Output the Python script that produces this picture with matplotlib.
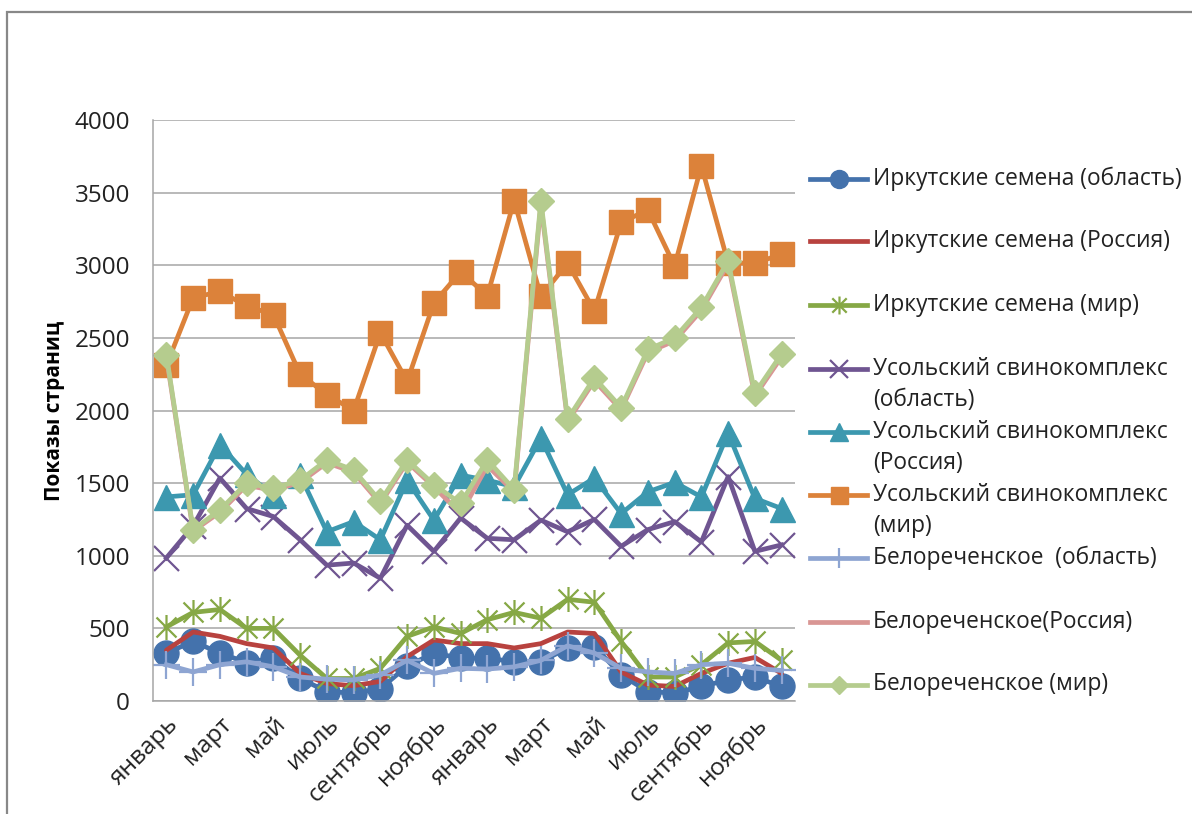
import matplotlib
matplotlib.use("Agg")
import matplotlib.pyplot as plt
from matplotlib.lines import Line2D
from matplotlib.patches import Rectangle
from matplotlib.path import Path

plt.rcParams["font.family"] = ["Open Sans", "DejaVu Sans"]

W, H = 1192, 814

months = ["январь", "февраль", "март", "апрель", "май", "июнь",
          "июль", "август", "сентябрь", "октябрь", "ноябрь", "декабрь"] * 2

irk_obl = [330, 410, 330, 265, 295, 155, 65, 55, 85, 240, 330, 295,
           295, 270, 270, 365, 375, 180, 65, 55, 100, 145, 165, 100]
irk_ros = [350, 475, 445, 395, 365, 190, 120, 105, 135, 305, 420, 395,
           395, 365, 395, 475, 465, 200, 110, 100, 190, 260, 300, 190]
irk_mir = [510, 610, 630, 500, 500, 315, 155, 155, 225, 445, 510, 465,
           560, 610, 570, 700, 680, 410, 165, 165, 250, 400, 410, 280]
us_obl = [985, 1205, 1535, 1325, 1270, 1110, 935, 950, 845, 1210, 1030, 1260,
          1120, 1110, 1245, 1165, 1250, 1065, 1180, 1235, 1095, 1545, 1030, 1075]
us_ros = [1405, 1420, 1765, 1560, 1420, 1555, 1165, 1235, 1110, 1520, 1245, 1555,
          1520, 1475, 1810, 1420, 1535, 1290, 1440, 1505, 1405, 1845, 1395, 1325]
us_mir = [2310, 2775, 2820, 2720, 2660, 2250, 2110, 2000, 2535, 2200, 2740, 2955,
          2790, 3445, 2785, 3015, 2685, 3295, 3380, 2995, 3685, 3015, 3015, 3075]
bel_obl = [250, 200, 250, 270, 235, 165, 150, 145, 180, 280, 190, 225,
           220, 235, 280, 380, 330, 225, 200, 190, 250, 260, 225, 210]
bel_ros = [2370, 1170, 1300, 1485, 1450, 1505, 1640, 1575, 1360, 1645, 1475, 1290,
           1620, 1440, 3420, 1925, 2205, 2005, 2400, 2480, 2690, 3010, 2100, 2370]
bel_mir = [2385, 1180, 1315, 1500, 1465, 1520, 1660, 1590, 1375, 1660, 1490, 1360,
           1660, 1455, 3445, 1940, 2225, 2020, 2420, 2500, 2710, 3030, 2120, 2390]

labels = [
    ["Иркутские семена (область)"],
    ["Иркутские семена (Россия)"],
    ["Иркутские семена (мир)"],
    ["Усольский свинокомплекс", "(область)"],
    ["Усольский свинокомплекс", "(Россия)"],
    ["Усольский свинокомплекс", "(мир)"],
    ["Белореченское  (область)"],
    ["Белореченское(Россия)"],
    ["Белореченское (мир)"],
]

star = Path([(0, -1), (0, 1), (-0.8, -0.8), (0.8, 0.8), (-0.8, 0.8), (0.8, -0.8)],
            [Path.MOVETO, Path.LINETO, Path.MOVETO, Path.LINETO, Path.MOVETO, Path.LINETO])

# color, marker, markersize, marker edge width, face
styles = [
    ("#4472AC", "o", 18, 1.0, "#4472AC"),
    ("#B8423F", None, 0, 0, None),
    ("#86A845", star, 18, 1.6, "none"),
    ("#6F5591", "x", 18, 1.6, "none"),
    ("#3C98AF", "^", 18, 1.0, "#3C98AF"),
    ("#DC823A", "s", 17, 1.0, "#DC823A"),
    ("#8EA5D2", "+", 20, 1.6, "none"),
    ("#D99694", None, 0, 0, None),
    ("#B5CC8E", "D", 13, 1.0, "#B5CC8E"),
]
series = [irk_obl, irk_ros, irk_mir, us_obl, us_ros, us_mir, bel_obl, bel_ros, bel_mir]

fig = plt.figure(figsize=(W / 100, H / 100), dpi=100)
ax = fig.add_axes([153 / W, 1 - 701 / H, (795 - 153) / W, (701 - 120) / H])

x = list(range(len(months)))
for vals, (c, m, ms, mew, fc) in zip(series, styles):
    if m is None:
        ax.plot(x, vals, color=c, lw=3.4, solid_capstyle="round")
    else:
        ax.plot(x, vals, color=c, lw=3.4, marker=m, markersize=ms,
                markeredgewidth=mew, markerfacecolor=fc, markeredgecolor=c,
                solid_joinstyle="round")

ax.set_xlim(-0.5, 23.5)
ax.set_ylim(0, 4000)
ax.set_yticks(range(0, 4001, 500))
ax.yaxis.grid(True, color="#A6A6A6", lw=1.1)
ax.set_axisbelow(True)
ax.set_xticks(x[::2])
ax.set_xticklabels(months[::2], rotation=45, ha="right", rotation_mode="anchor")
ax.tick_params(axis="y", length=0, pad=16.5, labelsize=17.5, labelcolor="#222222")
ax.tick_params(axis="x", length=0, pad=8, labelsize=17.5, labelcolor="#222222")
for s in ("top", "right"):
    ax.spines[s].set_visible(False)
for s in ("left", "bottom"):
    ax.spines[s].set_color("#A6A6A6")
    ax.spines[s].set_linewidth(1.1)
ax.set_ylabel("Показы страниц", fontsize=15, fontweight="bold", labelpad=7)

# legend drawn by hand so the handles sit on the first text line
ys = [178.7, 241.4, 304.7, 369, 431.8, 494.8, 558, 621.8, 684.5]
for lab, (c, m, ms, mew, fc), y in zip(labels, styles, ys):
    fy = 1 - y / H
    fig.add_artist(Line2D([810 / W, 867 / W], [fy, fy], color=c, lw=3.4,
                          transform=fig.transFigure))
    if m is not None:
        fig.add_artist(Line2D([838.5 / W], [fy], marker=m, markersize=ms * 0.72,
                              markeredgewidth=mew, markerfacecolor=fc,
                              markeredgecolor=c, color=c,
                              transform=fig.transFigure))
    for k, line in enumerate(lab):
        fig.text(873 / W, 1 - (y + 31.5 * k) / H, line, fontsize=16.4,
                 color="#222222", va="center", ha="left")

fig.add_artist(Rectangle((7 / W, -0.05), 1.1, 1 - 12 / H + 0.05, fill=False,
                         edgecolor="#888888", lw=1.6, transform=fig.transFigure))

fig.savefig("out.png", dpi=100)
